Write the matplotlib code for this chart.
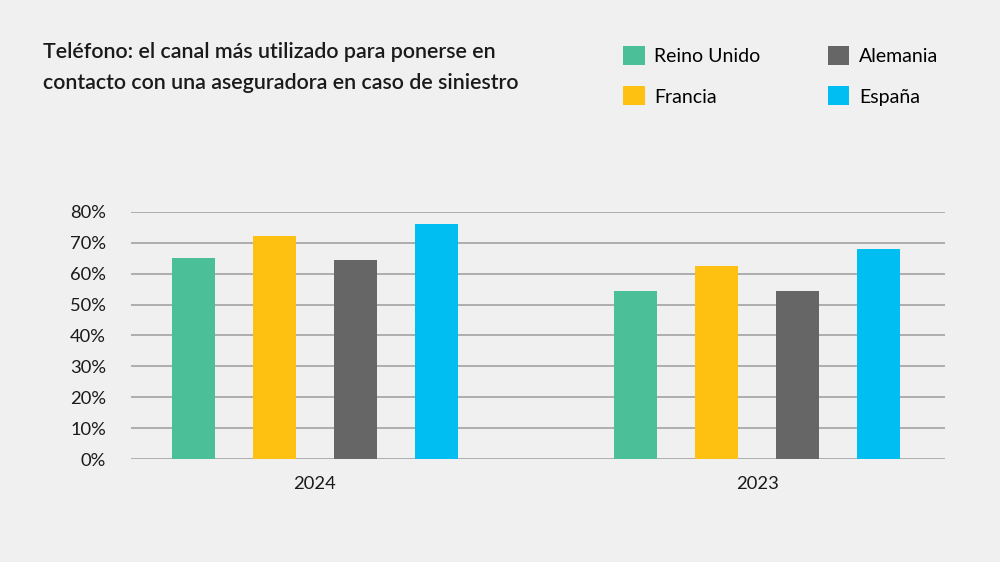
import matplotlib.pyplot as plt
import numpy as np
from matplotlib.patches import Patch

# datos
anios = ["2024", "2023"]
paises = ["Reino Unido", "Francia", "Alemania", "España"]
reino_unido = [65, 54.5]
francia = [72, 62.5]
alemania = [64.5, 54.5]
espana = [76, 68]
colores = ["#4BBF98", "#FFC111", "#666666", "#00BEF2"]

plt.rcParams["font.family"] = ["Lato", "DejaVu Sans"]
fondo = "#F0F0F0"

fig = plt.figure(figsize=(10, 5.62), dpi=100, facecolor=fondo)
ax = fig.add_axes([0.131, 0.1828, 0.814, 0.4405], facecolor=fondo)

x = np.arange(len(anios))
ancho = 0.097
paso = 0.183
series = [reino_unido, francia, alemania, espana]
for i, (vals, col) in enumerate(zip(series, colores)):
    ax.bar(x + (i - 1.5) * paso, np.array(vals) / 100, width=ancho, color=col, zorder=3)

ax.set_xlim(-0.416, 1.425)
ax.set_ylim(0, 0.8)
ax.set_yticks(np.arange(0, 0.81, 0.1))
ax.set_yticklabels([f"{int(round(v * 100))}%" for v in np.arange(0, 0.81, 0.1)])
ax.set_xticks(x)
ax.set_xticklabels(anios)
ax.tick_params(axis="both", length=0, labelsize=13.2, colors="#1a1a1a")
ax.tick_params(axis="y", pad=18)
ax.tick_params(axis="x", pad=12)
ax.grid(axis="y", color="#A8A8A8", linewidth=1.3, zorder=0)
for s in ax.spines.values():
    s.set_visible(False)

fig.text(0.043, 0.88, "Teléfono: el canal más utilizado para ponerse en\ncontacto con una aseguradora en caso de siniestro",
         fontsize=15.4, fontweight="semibold", color="#1a1a1a", va="center", linespacing=1.65)

handles = [Patch(facecolor=c, edgecolor="none") for c in colores]
fig.legend(handles, paises, loc="upper left", bbox_to_anchor=(0.615, 0.932), ncol=2,
           frameon=False, fontsize=14, handlelength=1.12, handleheight=1.12,
           handletextpad=0.5, columnspacing=3.45, labelspacing=1.1, borderaxespad=0)

fig.savefig("out.png", dpi=100, facecolor=fondo)
